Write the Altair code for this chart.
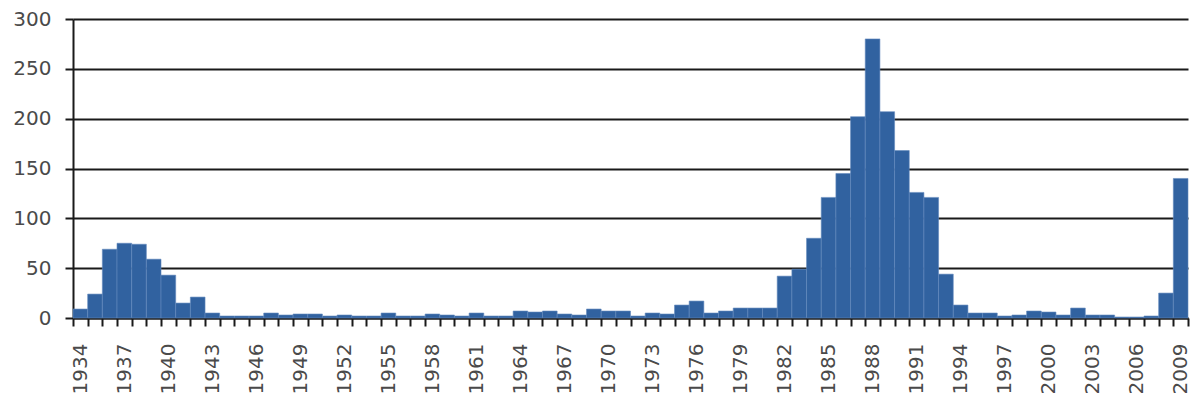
import altair as alt
import pandas as pd

years = list(range(1934, 2010))
values = [9, 24, 69, 75, 74, 59, 43, 15, 21, 5,
          2, 2, 2, 5, 3, 4, 4, 2, 3, 2,
          2, 5, 2, 2, 4, 3, 2, 5, 2, 2,
          7, 6, 7, 4, 3, 9, 7, 7, 2, 5,
          4, 13, 17, 5, 7, 10, 10, 10, 42, 49,
          80, 121, 145, 202, 280, 207, 168, 126, 121, 44,
          13, 5, 5, 2, 3, 7, 6, 3, 10, 3,
          3, 1, 1, 2, 25, 140]
label_years = [1934, 1937, 1940, 1943, 1946, 1949, 1952, 1955, 1958, 1961,
               1964, 1967, 1970, 1973, 1976, 1979, 1982, 1985, 1988, 1991,
               1994, 1997, 2000, 2003, 2006, 2009]
y_ticks = [0, 50, 100, 150, 200, 250, 300]

df = pd.DataFrame({"year": years, "value": values})

boundaries = [y - 0.5 for y in years] + [years[-1] + 0.5]
x_values = sorted(boundaries + label_years)

FONT = "DejaVu Sans"
TEXT_COLOR = "#4a4a4a"
LINE_COLOR = "#1a1a1a"

chart = (
    alt.Chart(df)
    .transform_calculate(start="datum.year - 0.5", end="datum.year + 0.5")
    .mark_bar(color="#3162A0", stroke="#6389bd", strokeWidth=0.6)
    .encode(
        x=alt.X(
            "start:Q",
            scale=alt.Scale(domain=[boundaries[0], boundaries[-1]], nice=False, zero=False),
            axis=alt.Axis(
                values=x_values,
                title=None,
                grid=False,
                labelAngle=-90,
                labelAlign="right",
                labelBaseline="middle",
                labelExpr="datum.value % 1 == 0 ? format(datum.value, 'd') : ''",
                labelOverlap=False,
                labelFlush=False,
                labelFont=FONT,
                labelFontSize=20,
                labelColor=TEXT_COLOR,
                labelPadding=17,
                tickSize=8,
                tickWidth=2,
                tickColor=LINE_COLOR,
                tickOpacity={"condition": {"test": "datum.value % 1 == 0", "value": 0}, "value": 1},
                domainColor=LINE_COLOR,
                domainWidth=2,
            ),
        ),
        x2="end:Q",
        y=alt.Y(
            "value:Q",
            scale=alt.Scale(domain=[0, 300], nice=False),
            axis=alt.Axis(
                values=y_ticks,
                title=None,
                grid=True,
                gridColor=LINE_COLOR,
                gridWidth=2,
                labelFont=FONT,
                labelFontSize=20,
                labelColor=TEXT_COLOR,
                labelPadding=14,
                tickSize=8,
                tickWidth=2,
                tickColor=LINE_COLOR,
                domainColor=LINE_COLOR,
                domainWidth=2,
            ),
        ),
        y2=alt.datum(0),
    )
    .properties(
        width=1115,
        height=299,
        autosize=alt.AutoSizeParams(type="none"),
        padding={"left": 65, "top": 11, "right": 4, "bottom": 79},
    )
    .configure_view(stroke=None)
)

chart.save("out.html", embed_options={"renderer": "svg", "actions": False})
